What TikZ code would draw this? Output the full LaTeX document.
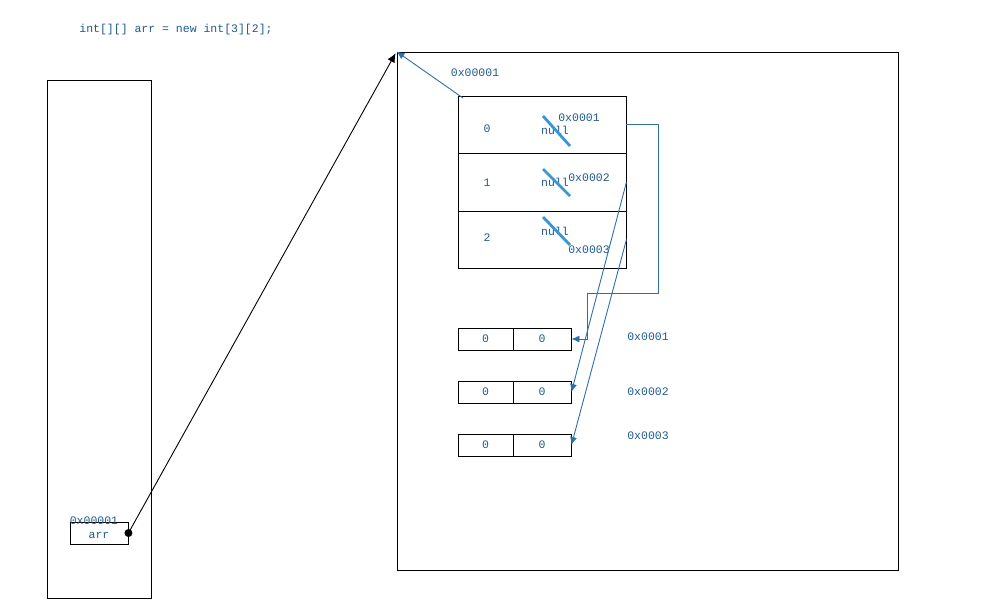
\documentclass[tikz,border=0pt]{standalone}
\usepackage{fontspec}
\setmonofont{Liberation Mono}
\usetikzlibrary{arrows.meta}
\definecolor{txtblue}{HTML}{1F5A8C}
\definecolor{lnblue}{HTML}{2E6FA8}
\definecolor{strikeblue}{HTML}{3A95D5}
\begin{document}
\begin{tikzpicture}[x=1pt,y=-1pt,
  font=\ttfamily\fontsize{11.5}{13}\selectfont,
  box/.style={draw=black, line width=0.9pt, inner sep=0pt, text=txtblue},
  lbl/.style={text=txtblue, inner sep=0pt},
  bline/.style={draw=lnblue, line width=0.9pt},
  btip/.style={-{Latex[length=8pt,width=7pt]}},
  strk/.style={draw=strikeblue, line width=2.8pt}]
\useasboundingbox (0,0) rectangle (1001,611);

% code line
\node[lbl] (code) at (176,30) {int[][] arr = new int[3][2];};

% stack
\node[box, minimum width=104pt, minimum height=518pt] (stack) at (99,339) {};
\node[box, minimum width=58pt, minimum height=22pt] (arrbox) at (99,533) {};
\node[lbl] (arrtxt) at (99,535) {arr};
\node[lbl] (arraddr) at (94,521) {0x00001};

% heap
\node[box, minimum width=501pt, minimum height=518pt] (heap) at (647.5,311) {};
\node[lbl] (heapaddr) at (475,73) {0x00001};

% outer array
\node[box, minimum width=168pt, minimum height=57pt] (row0) at (542,124.5) {};
\node[box, minimum width=168pt, minimum height=58pt] (row1) at (542,182) {};
\node[box, minimum width=168pt, minimum height=57pt] (row2) at (542,239.5) {};
\node[lbl] (i0) at (487,129) {0};
\node[lbl] (i1) at (487,183) {1};
\node[lbl] (i2) at (487,238) {2};

% nulls and strikes
\node[lbl] (n0) at (555,130) {null};
\node[lbl] (n1) at (555,182) {null};
\node[lbl] (n2) at (555,231) {null};
\draw[strk] (543,116) -- (570,146);
\draw[strk] (543,169) -- (570,196);
\draw[strk] (543,217) -- (570,245);
\node[lbl] (p0) at (579,118) {0x0001};
\node[lbl] (p1) at (589,178) {0x0002};
\node[lbl] (p2) at (589,250) {0x0003};

% inner arrays
\foreach \k/\y in {1/339,2/392,3/445}{
  \node[box, minimum width=55pt, minimum height=22pt] (a\k l) at (485.5,\y) {0};
  \node[box, minimum width=58pt, minimum height=22pt] (a\k r) at (542,\y) {0};
}
\node[lbl] (q1) at (648,337) {0x0001};
\node[lbl] (q2) at (648,392) {0x0002};
\node[lbl] (q3) at (648,436) {0x0003};

% reference from stack to heap
\fill (arrbox.east) circle (4pt);
\draw[line width=0.9pt, -{Latex[length=9pt,width=8pt]}, shorten >=2pt] (arrbox.east) -- (heap.north west);
\coordinate (hstart) at (463,98);
\draw[bline, btip] (hstart) -- (heap.north west);

% inner references
\coordinate (c1) at (658,124.5);
\coordinate (c2) at (587,293);
\draw[bline, btip] (row0.east) -- (c1) |- (c2) |- (a1r.east);
\draw[bline, btip] (row1.east) -- (a2r.east);
\draw[bline, btip] (row2.east) -- (a3r.east);
\end{tikzpicture}
\end{document}
